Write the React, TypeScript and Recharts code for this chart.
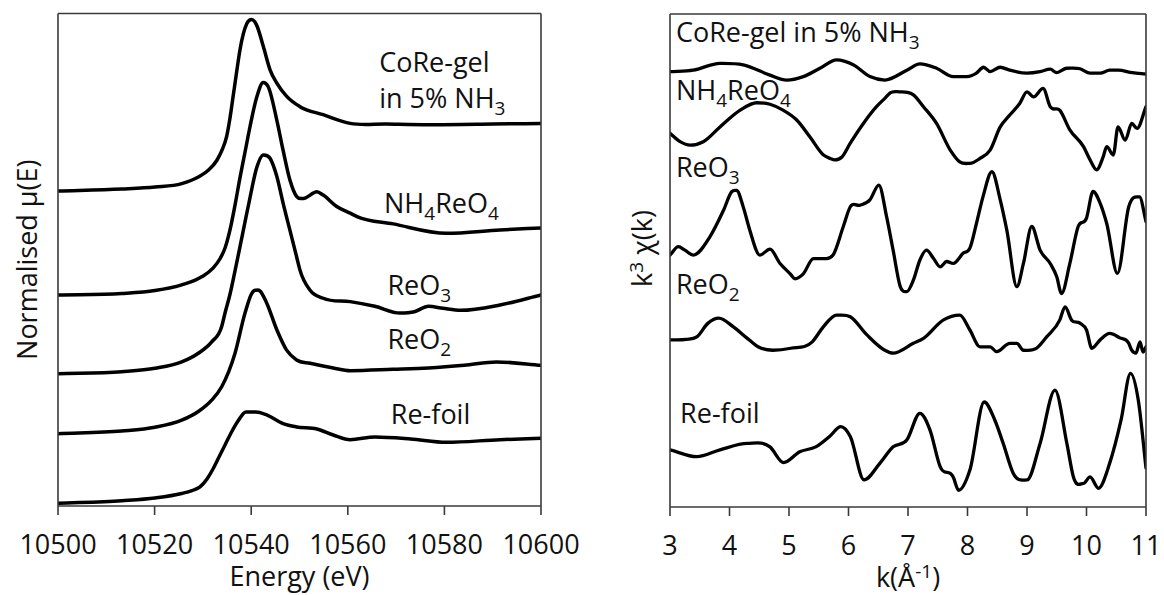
import React from 'react';
import { LineChart, Line, XAxis, YAxis, ReferenceDot } from 'recharts';

const FONT = '"Open Sans", "Noto Sans", "DejaVu Sans", sans-serif';
const INK = '#111111';
const FRAME = '#3a3a3a';

// ---------- Re L3-edge XANES, normalised and vertically offset ----------
const energyTicks = [10500, 10520, 10540, 10560, 10580, 10600];

const coreGelEnergy = [10500, 10513.19, 10520.08, 10525.61, 10529.05, 10531.12, 10532.9, 10533.95, 10534.93, 10535.61, 10536.29, 10536.99, 10537.68, 10539.1, 10540.1, 10541.1, 10542.5, 10543.9, 10545.3, 10547.4, 10550.1, 10554.9, 10560.5, 10568, 10576.7, 10590, 10600];
const coreGelMu = [4.7, 4.73, 4.76, 4.81, 4.91, 5.01, 5.16, 5.31, 5.52, 5.79, 6.13, 6.48, 6.81, 7.2, 7.26, 7.18, 6.86, 6.51, 6.31, 6.11, 5.96, 5.84, 5.71, 5.7, 5.69, 5.7, 5.71];

const nh4reo4Energy = [10500, 10513.19, 10520.08, 10525.61, 10529.75, 10532.09, 10533.54, 10534.58, 10535.61, 10536.65, 10537.68, 10538.72, 10539.75, 10541.14, 10542.5, 10543.5, 10545.3, 10546.6, 10548.0, 10549.4, 10550.8, 10553.6, 10554.9, 10557.7, 10560.5, 10561.9, 10569.4, 10580.4, 10591.5, 10600];
const nh4reo4Mu = [3.15, 3.17, 3.215, 3.3, 3.42, 3.55, 3.69, 3.85, 4.12, 4.49, 4.9, 5.28, 5.66, 6.1, 6.32, 6.26, 5.76, 5.31, 4.87, 4.62, 4.59, 4.69, 4.64, 4.47, 4.37, 4.32, 4.21, 4.07, 4.12, 4.15];

const reo3Energy = [10500, 10513.19, 10520.08, 10525.61, 10529.05, 10531.82, 10533.89, 10534.58, 10535.61, 10536.65, 10537.68, 10538.72, 10539.75, 10541.14, 10542.51, 10543.9, 10545.3, 10546.6, 10548.0, 10549.4, 10550.1, 10552.2, 10554.9, 10560.5, 10565.6, 10570.8, 10573.8, 10576.7, 10579.7, 10583.4, 10591.5, 10600];
const reo3Mu = [1.975, 2.005, 2.055, 2.15, 2.28, 2.45, 2.68, 2.88, 3.16, 3.51, 3.87, 4.24, 4.6, 5.05, 5.24, 5.19, 4.92, 4.52, 4.12, 3.72, 3.52, 3.22, 3.1, 3.05, 2.98, 2.88, 2.9, 2.98, 2.95, 2.92, 3.0, 3.15];

const reo2Energy = [10500, 10513.19, 10520.08, 10525.61, 10529.05, 10531.82, 10533.89, 10536.65, 10538.72, 10540.1, 10540.8, 10541.8, 10543.2, 10545.3, 10547.3, 10549.4, 10552.2, 10557.0, 10560.5, 10569.3, 10576.7, 10584.1, 10590.8, 10600];
const reo2Mu = [1.08, 1.12, 1.175, 1.28, 1.41, 1.58, 1.78, 2.28, 2.88, 3.17, 3.22, 3.21, 3.03, 2.63, 2.33, 2.18, 2.13, 2.06, 2.02, 2.04, 2.06, 2.1, 2.15, 2.1];

const reFoilEnergy = [10500, 10513.19, 10520.08, 10525.61, 10527.74, 10529.4, 10530.85, 10532.09, 10533.33, 10534.58, 10535.82, 10537.27, 10538.92, 10540.99, 10543.2, 10546.6, 10549.4, 10553.6, 10557.0, 10560.5, 10565.6, 10573.0, 10580.4, 10591.5, 10600];
const reFoilMu = [0.04, 0.08, 0.12, 0.187, 0.231, 0.284, 0.403, 0.552, 0.731, 0.91, 1.09, 1.269, 1.403, 1.403, 1.36, 1.23, 1.18, 1.15, 1.06, 0.99, 1.03, 1.0, 0.95, 0.99, 1.01];

// ---------- k^3-weighted EXAFS, vertically offset ----------
const kTicks = [3, 4, 5, 6, 7, 8, 9, 10, 11];

const coreGelK = [3.0, 3.39, 3.84, 4.23, 4.68, 4.96, 5.24, 5.52, 5.8, 6.08, 6.36, 6.61, 6.98, 7.2, 7.48, 7.76, 7.99, 8.15, 8.27, 8.38, 8.55, 8.71, 9.0, 9.22, 9.39, 9.5, 9.67, 9.89, 10.06, 10.23, 10.39, 10.53, 10.77, 11.0];
const coreGelChi = [8.83, 8.86, 9.0, 8.97, 8.76, 8.66, 8.73, 8.9, 9.07, 8.97, 8.73, 8.66, 8.86, 8.99, 8.9, 8.73, 8.73, 8.8, 8.92, 8.83, 8.92, 8.86, 8.8, 8.83, 8.88, 8.81, 8.9, 8.89, 8.8, 8.8, 8.86, 8.86, 8.81, 8.78];

const nh4reo4K = [3.0, 3.17, 3.34, 3.56, 3.84, 4.18, 4.46, 4.68, 4.9, 5.13, 5.35, 5.58, 5.69, 5.77, 5.89, 6.03, 6.25, 6.47, 6.61, 6.7, 6.87, 7.09, 7.26, 7.48, 7.71, 7.87, 8.04, 8.21, 8.38, 8.55, 8.71, 8.88, 9.0, 9.11, 9.27, 9.39, 9.55, 9.72, 9.95, 10.06, 10.17, 10.28, 10.34, 10.45, 10.53, 10.65, 10.76, 10.85, 11.0];
const nh4reo4Chi = [7.58, 7.41, 7.34, 7.41, 7.71, 8.05, 8.2, 8.17, 8.05, 7.85, 7.51, 7.14, 7.07, 7.04, 7.1, 7.38, 7.78, 8.12, 8.29, 8.4, 8.42, 8.36, 8.12, 7.78, 7.24, 7.0, 6.97, 7.07, 7.24, 7.71, 7.95, 8.19, 8.42, 8.32, 8.49, 8.12, 8.05, 7.65, 7.31, 7.04, 6.84, 7.1, 7.31, 7.14, 7.71, 7.44, 7.78, 7.68, 8.12];

const reo3K = [3.0, 3.14, 3.25, 3.39, 3.67, 3.9, 4.04, 4.12, 4.23, 4.34, 4.51, 4.68, 4.85, 5.02, 5.1, 5.24, 5.41, 5.63, 5.74, 5.91, 6.03, 6.19, 6.36, 6.51, 6.64, 6.75, 6.87, 6.98, 7.09, 7.2, 7.31, 7.43, 7.54, 7.65, 7.76, 7.93, 8.04, 8.15, 8.26, 8.41, 8.55, 8.66, 8.83, 8.94, 9.08, 9.22, 9.39, 9.5, 9.58, 9.72, 9.86, 10.0, 10.11, 10.23, 10.34, 10.52, 10.71, 10.89, 11.0];
const reo3Chi = [5.11, 5.28, 5.21, 5.11, 5.48, 6.02, 6.4, 6.42, 6.09, 5.62, 5.11, 5.23, 4.94, 4.73, 4.63, 4.73, 5.04, 5.04, 5.11, 5.68, 6.09, 6.12, 6.23, 6.53, 5.89, 5.21, 4.47, 4.37, 4.6, 5.01, 5.21, 5.04, 4.87, 4.98, 4.94, 5.15, 5.25, 5.75, 6.29, 6.8, 6.23, 5.62, 4.47, 4.94, 5.69, 5.21, 4.94, 4.67, 4.33, 4.94, 5.69, 5.86, 6.4, 6.16, 5.75, 4.74, 6.09, 6.29, 5.79];

const reo2K = [3.0, 3.27, 3.45, 3.64, 3.82, 4.06, 4.3, 4.48, 4.73, 5.03, 5.39, 5.58, 5.8, 6.03, 6.31, 6.61, 6.75, 7.09, 7.26, 7.59, 7.87, 8.04, 8.21, 8.38, 8.49, 8.71, 8.83, 8.94, 9.16, 9.33, 9.55, 9.64, 9.75, 9.89, 10.0, 10.09, 10.23, 10.39, 10.56, 10.71, 10.76, 10.83, 10.9, 10.95, 11.0];
const reo2Chi = [3.39, 3.4, 3.45, 3.73, 3.83, 3.66, 3.42, 3.25, 3.18, 3.22, 3.35, 3.66, 3.89, 3.86, 3.49, 3.18, 3.12, 3.32, 3.42, 3.79, 3.89, 3.59, 3.25, 3.25, 3.15, 3.32, 3.32, 3.18, 3.22, 3.45, 3.79, 4.06, 3.79, 3.73, 3.59, 3.22, 3.39, 3.52, 3.43, 3.32, 3.18, 3.12, 3.35, 3.14, 3.25];

const reFoilK = [3.0, 3.45, 3.84, 4.3, 4.68, 4.91, 5.18, 5.45, 5.69, 5.87, 6.03, 6.26, 6.53, 6.75, 6.98, 7.2, 7.37, 7.54, 7.76, 7.85, 8.04, 8.28, 8.46, 8.6, 8.77, 9.0, 9.22, 9.47, 9.67, 9.78, 9.95, 10.06, 10.2, 10.39, 10.58, 10.74, 10.87, 11.0];
const reFoilChi = [1.16, 1.02, 1.16, 1.29, 1.22, 0.9, 1.12, 1.22, 1.44, 1.63, 1.43, 0.55, 0.89, 1.22, 1.36, 1.9, 1.56, 0.82, 0.61, 0.34, 0.75, 2.13, 1.76, 1.29, 0.68, 0.55, 1.29, 2.37, 1.29, 0.61, 0.48, 0.61, 0.38, 0.89, 1.76, 2.71, 2.17, 0.79];

type Seg = { t: string; sub?: boolean; sup?: boolean };
type Tag = { x: number; y: number; text: Seg[] };
type Pt = { x: number; y: number };

const zip = (xs: number[], ys: number[]): Pt[] => xs.map((x, i) => ({ x, y: ys[i] }));

const xanesSeries = [
  zip(coreGelEnergy, coreGelMu),
  zip(nh4reo4Energy, nh4reo4Mu),
  zip(reo3Energy, reo3Mu),
  zip(reo2Energy, reo2Mu),
  zip(reFoilEnergy, reFoilMu),
];

const exafsSeries = [
  zip(coreGelK, coreGelChi),
  zip(nh4reo4K, nh4reo4Chi),
  zip(reo3K, reo3Chi),
  zip(reo2K, reo2Chi),
  zip(reFoilK, reFoilChi),
];

// sample names, anchored in data coordinates (left edge / baseline)
const xanesTags: Tag[] = [
  { x: 10566.5, y: 6.48, text: [{ t: 'CoRe-gel' }] },
  { x: 10566.5, y: 5.94, text: [{ t: 'in 5% NH' }, { t: '3', sub: true }] },
  { x: 10567.5, y: 4.37, text: [{ t: 'NH' }, { t: '4', sub: true }, { t: 'ReO' }, { t: '4', sub: true }] },
  { x: 10568.2, y: 3.15, text: [{ t: 'ReO' }, { t: '3', sub: true }] },
  { x: 10568.2, y: 2.34, text: [{ t: 'ReO' }, { t: '2', sub: true }] },
  { x: 10568.9, y: 1.22, text: [{ t: 'Re-foil' }] },
];

const exafsTags: Tag[] = [
  { x: 3.1, y: 9.43, text: [{ t: 'CoRe-gel in 5% NH' }, { t: '3', sub: true }] },
  { x: 3.1, y: 8.26, text: [{ t: 'NH' }, { t: '4', sub: true }, { t: 'ReO' }, { t: '4', sub: true }] },
  { x: 3.1, y: 6.69, text: [{ t: 'ReO' }, { t: '3', sub: true }] },
  { x: 3.1, y: 4.32, text: [{ t: 'ReO' }, { t: '2', sub: true }] },
  { x: 3.17, y: 1.7, text: [{ t: 'Re-foil' }] },
];

const FS = 27;
const SMALL = 19;

// Smooth C1 spline through every point: three-point tangents, flattened at
// local extrema so peaks stay on the measured values.
function spectrumCurve(context: any) {
  let xs: number[] = [];
  let ys: number[] = [];
  return {
    areaStart() {},
    areaEnd() {},
    lineStart() {
      xs = [];
      ys = [];
    },
    point(x: number, y: number) {
      xs.push(+x);
      ys.push(+y);
    },
    lineEnd() {
      const n = xs.length;
      if (n === 0) return;
      context.moveTo(xs[0], ys[0]);
      if (n === 1) return;
      const m: number[] = new Array(n);
      for (let i = 0; i < n; i++) {
        if (i === 0) m[i] = (ys[1] - ys[0]) / (xs[1] - xs[0]);
        else if (i === n - 1) m[i] = (ys[n - 1] - ys[n - 2]) / (xs[n - 1] - xs[n - 2]);
        else {
          const h0 = xs[i] - xs[i - 1];
          const h1 = xs[i + 1] - xs[i];
          const s0 = (ys[i] - ys[i - 1]) / h0;
          const s1 = (ys[i + 1] - ys[i]) / h1;
          m[i] = s0 * s1 <= 0 ? 0 : (s0 * h1 + s1 * h0) / (h0 + h1);
        }
      }
      for (let i = 0; i < n - 1; i++) {
        const h = (xs[i + 1] - xs[i]) / 3;
        context.bezierCurveTo(xs[i] + h, ys[i] + m[i] * h, xs[i + 1] - h, ys[i + 1] - m[i + 1] * h, xs[i + 1], ys[i + 1]);
      }
    },
  };
}

function rich(segs: Seg[]) {
  let shift = 0;
  return segs.map((s, i) => {
    const target = s.sub ? 7 : s.sup ? -9 : 0;
    const dy = target - shift;
    shift = target;
    return (
      <tspan key={i} dy={dy} fontSize={s.sub || s.sup ? SMALL : FS}>
        {s.t}
      </tspan>
    );
  });
}

const tagShape = (segs: Seg[]) => (p: any) => (
  <text x={p.cx} y={p.cy} fill={INK} fontFamily={FONT} fontSize={FS} textAnchor="start">
    {rich(segs)}
  </text>
);

type PanelProps = {
  left: number;
  width: number;
  margin: { top: number; right: number; bottom: number; left: number };
  axisHeight: number;
  xDomain: [number, number];
  xTicks: number[];
  yDomain: [number, number];
  series: Pt[][];
  tags: Tag[];
  strokeWidth: number;
  xTitle: Seg[];
  yTitle: Seg[];
  yTitleGap: number;
  yTitleShift: number;
};

const frameLine = { stroke: FRAME, strokeWidth: 1.6 };

function Panel(props: PanelProps) {
  const { left, width, margin, axisHeight, xDomain, xTicks, yDomain, series, tags, strokeWidth, xTitle, yTitle, yTitleGap, yTitleShift } = props;
  const height = 595;

  const xTitleContent = (p: any) => {
    const vb = p.viewBox || {};
    const cx = vb.x + vb.width / 2;
    const y = vb.y + 80;
    return (
      <text x={cx} y={y} textAnchor="middle" fill={INK} fontFamily={FONT} fontSize={FS}>
        {rich(xTitle)}
      </text>
    );
  };

  const yTitleContent = (p: any) => {
    const vb = p.viewBox || {};
    const x = vb.x + (vb.width || 0) - yTitleGap;
    const y = vb.y + vb.height / 2 + yTitleShift;
    return (
      <text x={x} y={y} transform={`rotate(-90 ${x} ${y})`} textAnchor="middle" fill={INK} fontFamily={FONT} fontSize={FS}>
        {rich(yTitle)}
      </text>
    );
  };

  return (
    <div style={{ position: 'absolute', left, top: 0, width, height }}>
      <LineChart width={width} height={height} margin={margin} style={{ fontFamily: FONT, overflow: 'visible' }}>
        <XAxis
          xAxisId="b"
          type="number"
          dataKey="x"
          domain={xDomain}
          ticks={xTicks}
          interval={0}
          allowDataOverflow
          height={axisHeight}
          tickSize={9}
          tickMargin={20}
          axisLine={frameLine}
          tickLine={frameLine}
          tick={{ fill: INK, fontSize: FS, fontFamily: FONT }}
          label={xTitleContent}
        />
        <XAxis
          xAxisId="t"
          orientation="top"
          type="number"
          dataKey="x"
          domain={xDomain}
          allowDataOverflow
          height={1}
          tick={false}
          tickLine={false}
          axisLine={frameLine}
        />
        <YAxis
          yAxisId="l"
          type="number"
          domain={yDomain}
          allowDataOverflow
          width={1}
          tick={false}
          tickLine={false}
          axisLine={frameLine}
          label={yTitleContent}
        />
        <YAxis
          yAxisId="r"
          orientation="right"
          type="number"
          domain={yDomain}
          allowDataOverflow
          width={1}
          tick={false}
          tickLine={false}
          axisLine={frameLine}
        />
        {series.map((d, i) => (
          <Line
            key={i}
            xAxisId="b"
            yAxisId="l"
            data={d}
            dataKey="y"
            type={spectrumCurve as any}
            stroke="#000"
            strokeWidth={strokeWidth}
            strokeLinejoin="round"
            strokeLinecap="round"
            dot={false}
            activeDot={false}
            isAnimationActive={false}
          />
        ))}
        {tags.map((t, i) => (
          <ReferenceDot key={`tag${i}`} xAxisId="b" yAxisId="l" x={t.x} y={t.y} r={0} shape={tagShape(t.text)} />
        ))}
      </LineChart>
    </div>
  );
}

export default function App() {
  return (
    <div style={{ position: 'absolute', left: 0, top: 0, width: 1164, height: 595, background: '#fff', overflow: 'hidden' }}>
      <Panel
        left={0}
        width={600}
        margin={{ top: 12.5, right: 58, bottom: 0, left: 57 }}
        axisHeight={89}
        xDomain={[10500, 10600]}
        xTicks={energyTicks}
        yDomain={[0, 7.35]}
        series={xanesSeries}
        tags={xanesTags}
        strokeWidth={3.5}
        xTitle={[{ t: 'Energy (eV)' }]}
        yTitle={[{ t: 'Normalised \u03bc(E)' }]}
        yTitleGap={21}
        yTitleShift={0}
      />
      <Panel
        left={600}
        width={564}
        margin={{ top: 13, right: 17, bottom: 0, left: 69 }}
        axisHeight={88}
        xDomain={[3, 11]}
        xTicks={kTicks}
        yDomain={[0, 10]}
        series={exafsSeries}
        tags={exafsTags}
        strokeWidth={3.3}
        xTitle={[{ t: 'k(\u00c5' }, { t: '-1', sup: true }, { t: ')' }]}
        yTitle={[{ t: 'k' }, { t: '3', sup: true }, { t: '\u00a0\u03c7(k)' }]}
        yTitleGap={18}
        yTitleShift={-12}
      />
    </div>
  );
}
